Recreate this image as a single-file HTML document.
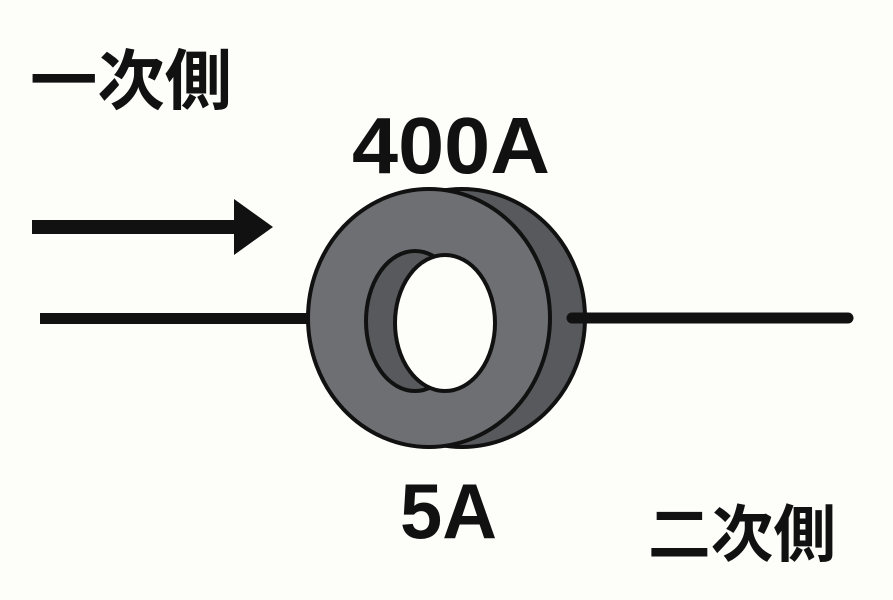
<!DOCTYPE html>
<html><head><meta charset="utf-8"><style>
body{margin:0;background:#fdfdf9;}
svg text{font-family:"Liberation Sans","Noto Sans CJK JP",sans-serif;font-weight:bold;fill:#111;}
</style></head><body>
<svg width="893" height="595" viewBox="0 0 893 595" xmlns="http://www.w3.org/2000/svg">
<rect width="893" height="595" fill="#fdfdf9"/>
<text x="30" y="104" font-size="66" textLength="202" lengthAdjust="spacingAndGlyphs">一次側</text>
<text x="352" y="173" font-size="80" textLength="198" lengthAdjust="spacingAndGlyphs">400A</text>
<text x="400" y="538" font-size="78" textLength="97" lengthAdjust="spacingAndGlyphs">5A</text>
<text x="648" y="556" font-size="62" textLength="188" lengthAdjust="spacingAndGlyphs">二次側</text>
<rect x="32" y="220" width="205" height="14" fill="#111"/>
<polygon points="234,199 273,227 234,255" fill="#111"/>
<rect x="40" y="313" width="270" height="11" fill="#111"/>
<ellipse cx="462" cy="318" rx="123" ry="129" fill="#58595c" stroke="#111" stroke-width="4"/>
<ellipse cx="429" cy="318" rx="121" ry="129" fill="#6e6f73" stroke="#111" stroke-width="4"/>
<ellipse cx="415" cy="321" rx="49" ry="70" fill="#58595c" stroke="#111" stroke-width="4"/>
<ellipse cx="445" cy="323" rx="50" ry="68" fill="#fdfdf9" stroke="#111" stroke-width="4"/>
<line x1="572" y1="318" x2="848" y2="318" stroke="#111" stroke-width="11" stroke-linecap="round"/>
</svg>
</body></html>
